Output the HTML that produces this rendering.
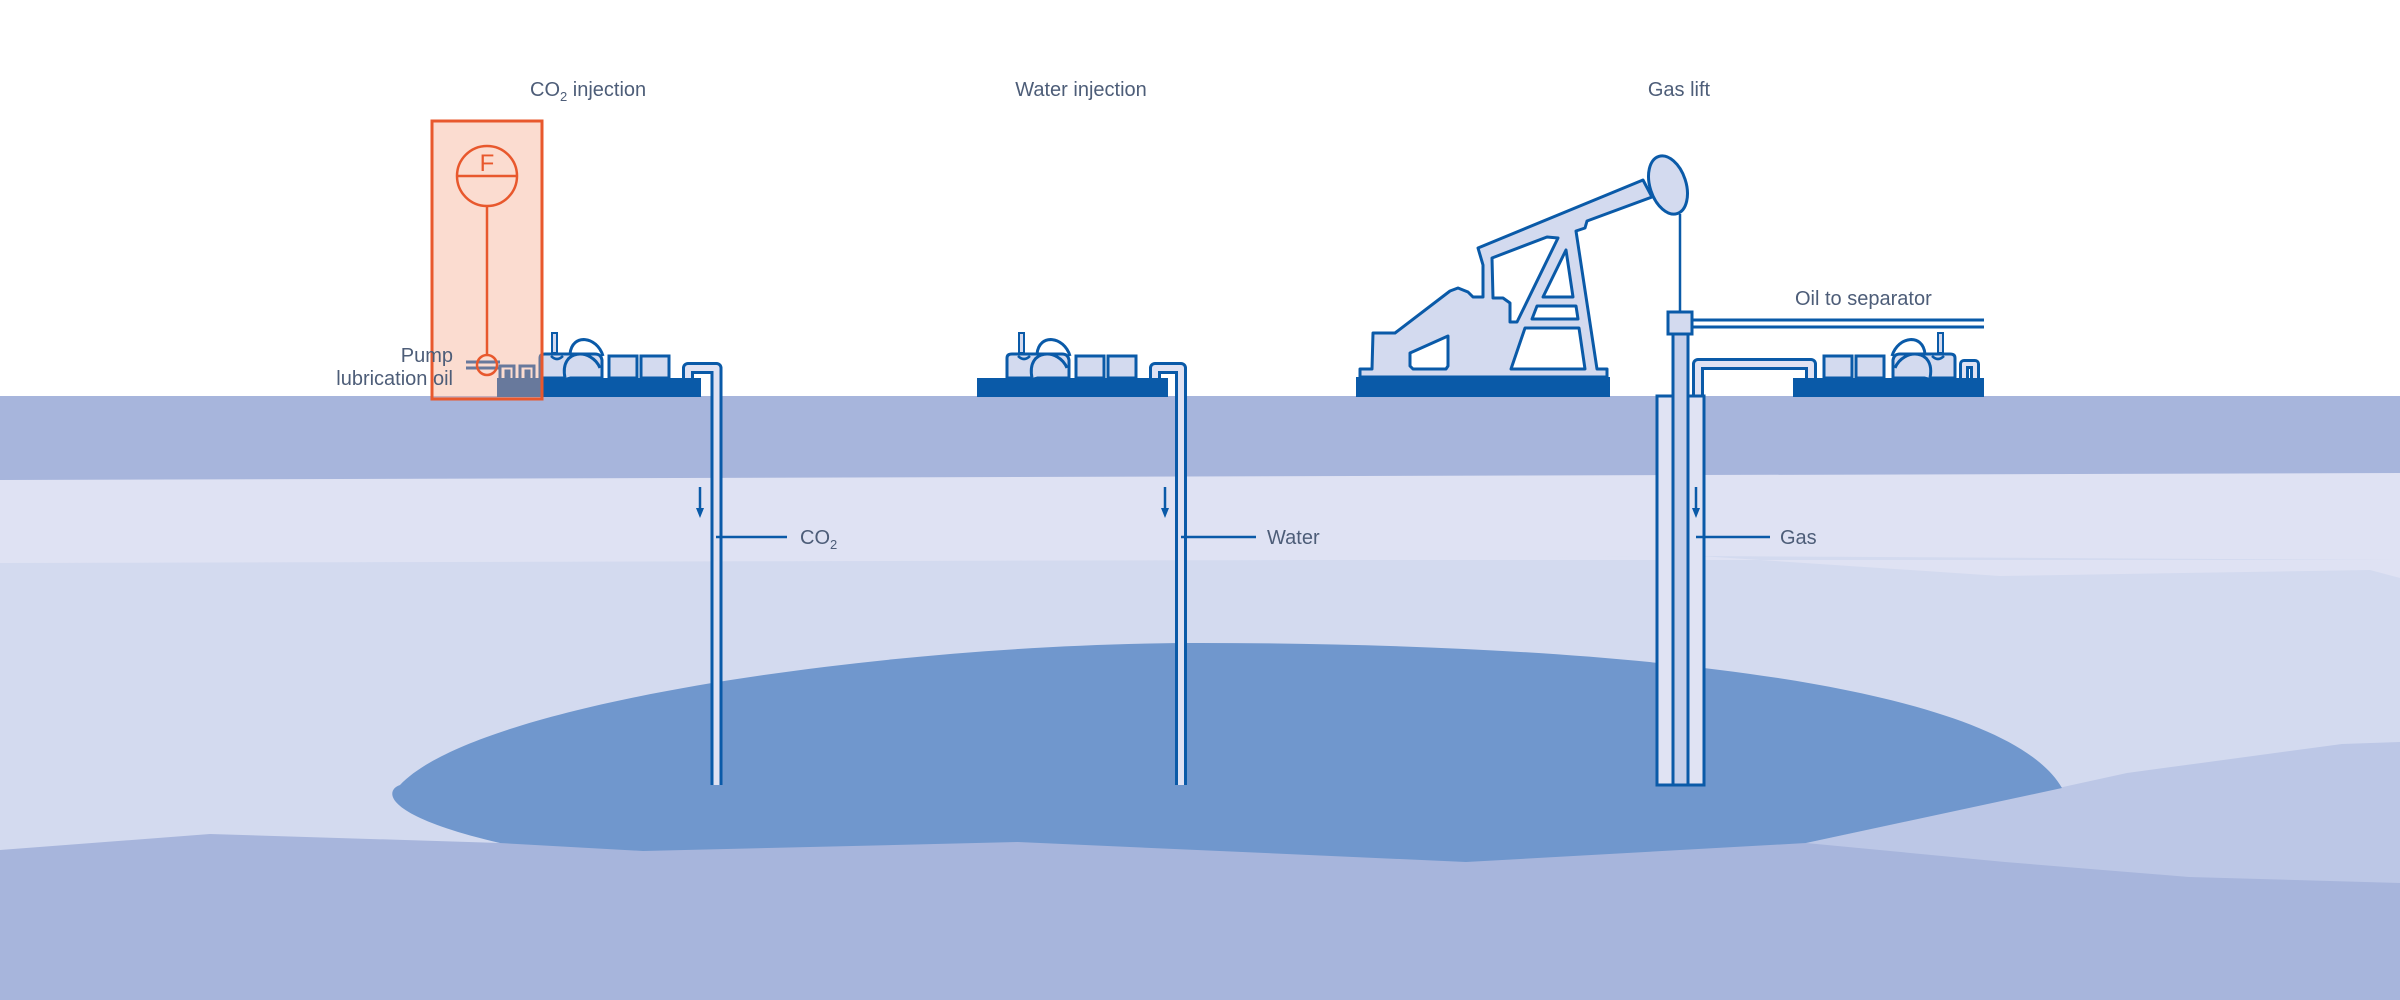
<!DOCTYPE html>
<html><head><meta charset="utf-8"><style>
html,body{margin:0;padding:0;background:#fff;}
svg{display:block;}
text{font-family:"Liberation Sans",sans-serif;fill:#4d5d78;}
</style></head><body>
<svg width="2400" height="1000" viewBox="0 0 2400 1000" xmlns="http://www.w3.org/2000/svg">
<rect width="2400" height="1000" fill="#fff"/>
<rect x="0" y="396" width="2400" height="604" fill="#d3daef"/>
<rect x="0" y="396" width="2400" height="84" fill="#a7b5dc"/>
<polygon points="0,480 2400,473 2400,560 1700,556 1300,560 0,563" fill="#dfe2f3"/>
<polygon points="1180,560 1700,556 2000,576 2370,570 2400,578 2400,560" fill="#dfe2f3"/>
<polygon points="1806,843 2127,773 2342,744 2400,742 2400,1000 1806,1000" fill="#bcc7e6"/>
<path d="M500,843 C380,815 385,790 400,785 C480,700 900,643 1200,643 C1600,643 2000,680 2062,788 L1806,843 L1806,880 L500,880 Z" fill="#7097cd"/>
<polygon points="0,850 210,834 500,843 643,851 1018,842 1466,862 1806,843 2005,862 2189,877 2400,883 2400,1000 0,1000" fill="#a7b5dc"/>

<text x="530" y="96" font-size="20">CO<tspan font-size="13" dy="5">2</tspan><tspan dy="-5"> injection</tspan></text>
<text x="1081" y="96" font-size="20" text-anchor="middle">Water injection</text>
<text x="1679" y="96" font-size="20" text-anchor="middle">Gas lift</text>
<text x="1795" y="305" font-size="20">Oil to separator</text>

<g fill="none" stroke-linejoin="round">
 <path d="M688,378 V368 H716.5 V785" stroke="#0a5aa8" stroke-width="12"/>
 <path d="M688,378 V368 H716.5 V785" stroke="#dfe2f3" stroke-width="6"/>
 <path d="M1155,378 V368 H1181 V785" stroke="#0a5aa8" stroke-width="12"/>
 <path d="M1155,378 V368 H1181 V785" stroke="#dfe2f3" stroke-width="6"/>
 <path d="M1698,400 V364 H1811 V378" stroke="#0a5aa8" stroke-width="12"/>
 <path d="M1698,400 V364 H1811 V378" stroke="#dfe2f3" stroke-width="6"/>
 <path d="M1964,378 V364 H1975 V378" stroke="#0a5aa8" stroke-width="10"/>
 <path d="M1964,378 V364 H1975 V378" stroke="#dfe2f3" stroke-width="4"/>
</g>
<rect x="1657" y="396" width="47" height="389" fill="#e0e3f3" stroke="#0a5aa8" stroke-width="3"/>
<rect x="1673" y="334" width="15" height="451" fill="#c5cfea" stroke="#0a5aa8" stroke-width="3"/>
<line x1="1692" y1="320" x2="1984" y2="320" stroke="#0a5aa8" stroke-width="3"/>
<line x1="1692" y1="327" x2="1984" y2="327" stroke="#0a5aa8" stroke-width="3"/>
<rect x="1668" y="312" width="24" height="22" fill="#d3daef" stroke="#0a5aa8" stroke-width="3"/>
<line x1="1680" y1="214" x2="1680" y2="312" stroke="#0a5aa8" stroke-width="2.5"/>

<g stroke="#0a5aa8" stroke-width="2.5" fill="#0a5aa8">
 <line x1="716" y1="537" x2="787" y2="537"/>
 <line x1="1181" y1="537" x2="1256" y2="537"/>
 <line x1="1696" y1="537" x2="1770" y2="537"/>
 <line x1="700" y1="487" x2="700" y2="510"/><polygon points="696,508 704,508 700,518" stroke="none"/>
 <line x1="1165" y1="487" x2="1165" y2="510"/><polygon points="1161,508 1169,508 1165,518" stroke="none"/>
 <line x1="1696" y1="487" x2="1696" y2="510"/><polygon points="1692,508 1700,508 1696,518" stroke="none"/>
</g>
<text x="800" y="544" font-size="20">CO<tspan font-size="13" dy="5">2</tspan></text>
<text x="1267" y="544" font-size="20">Water</text>
<text x="1780" y="544" font-size="20">Gas</text>

<defs>
 <g id="pbody">
  <path d="M43,0 V-20 Q43,-24 48,-24 H98 Q104,-24 105,-18 V0 Z" fill="#d3daef" stroke="#0a5aa8" stroke-width="3"/>
  <path d="M68,0 C62,-30 95,-30 103,-10" fill="#d3daef" stroke="#0a5aa8" stroke-width="3"/>
  <path d="M73,-24 C75,-45 100,-42 106,-22" fill="none" stroke="#0a5aa8" stroke-width="3"/>
  <path d="M54,-22 Q60,-16 66,-22" fill="none" stroke="#0a5aa8" stroke-width="2.5"/>
  <rect x="55" y="-45" width="5" height="20" fill="#d3daef" stroke="#0a5aa8" stroke-width="2"/>
 </g>
 <g id="boxes">
  <rect x="0" y="-22" width="28" height="22" fill="#d3daef" stroke="#0a5aa8" stroke-width="3"/>
  <rect x="32" y="-22" width="28" height="22" fill="#d3daef" stroke="#0a5aa8" stroke-width="3"/>
 </g>
</defs>
<rect x="497" y="378" width="204" height="19" fill="#0a5aa8"/>
<use href="#pbody" x="497" y="378"/>
<use href="#boxes" x="609" y="378"/>
<rect x="977" y="378" width="191" height="19" fill="#0a5aa8"/>
<use href="#pbody" x="964" y="378"/>
<use href="#boxes" x="1076" y="378"/>
<rect x="1793" y="378" width="191" height="19" fill="#0a5aa8"/>
<use href="#pbody" transform="translate(1998,378) scale(-1,1)"/>
<use href="#boxes" x="1824" y="378"/>

<g fill="none" stroke="#0a5aa8" stroke-width="3">
 <path d="M500,378 V366 H514 V378"/><path d="M506,378 V371 H509 V378"/>
 <path d="M520,378 V366 H534 V378"/><path d="M526,378 V371 H529 V378"/>
 <path d="M466,362 H500"/><path d="M466,368 H500"/>
</g>

<rect x="1356" y="377" width="254" height="20" fill="#0a5aa8"/>
<polygon points="1360,377 1360,369 1372,369 1373,333 1395,333 1450,291 1458,288 1468,292 1473,297 1483,297 1483,265 1478,248 1643,180 1652,197 1587,221 1585,228 1576,231 1597,369 1607,369 1607,377" fill="#d3daef" stroke="#0a5aa8" stroke-width="3" stroke-linejoin="round"/>
<polygon points="1492,258 1547,237 1558,238 1517,322 1510,322 1510,303 1503,298 1493,298" fill="#fff" stroke="#0a5aa8" stroke-width="3" stroke-linejoin="round"/>
<polygon points="1543,297 1566,250 1573,297" fill="#fff" stroke="#0a5aa8" stroke-width="3" stroke-linejoin="round"/>
<polygon points="1532,319 1537,306 1576,306 1578,319" fill="#fff" stroke="#0a5aa8" stroke-width="3" stroke-linejoin="round"/>
<polygon points="1511,369 1525,328 1579,328 1585,369" fill="#fff" stroke="#0a5aa8" stroke-width="3" stroke-linejoin="round"/>
<polygon points="1410,353 1448,336 1448,366 1446,369 1413,369 1410,366" fill="#fff" stroke="#0a5aa8" stroke-width="3" stroke-linejoin="round"/>
<ellipse cx="1668" cy="185" rx="18" ry="30" transform="rotate(-18 1668 185)" fill="#d3daef" stroke="#0a5aa8" stroke-width="3"/>

<rect x="432" y="121" width="110" height="278" fill="#f4a78a" fill-opacity="0.4" stroke="#e8582d" stroke-width="3"/>
<circle cx="487" cy="176" r="30" fill="none" stroke="#e8582d" stroke-width="2.5"/>
<line x1="457" y1="176" x2="517" y2="176" stroke="#e8582d" stroke-width="2.5"/>
<text x="487" y="171" font-size="24" text-anchor="middle" style="fill:#e8582d">F</text>
<line x1="487" y1="206" x2="487" y2="355" stroke="#e8582d" stroke-width="2.5"/>
<circle cx="487" cy="365" r="10" fill="none" stroke="#e8582d" stroke-width="2.5"/>
<text x="453" y="362" font-size="20" text-anchor="end">Pump</text>
<text x="453" y="385" font-size="20" text-anchor="end">lubrication oil</text>
</svg>
</body></html>
